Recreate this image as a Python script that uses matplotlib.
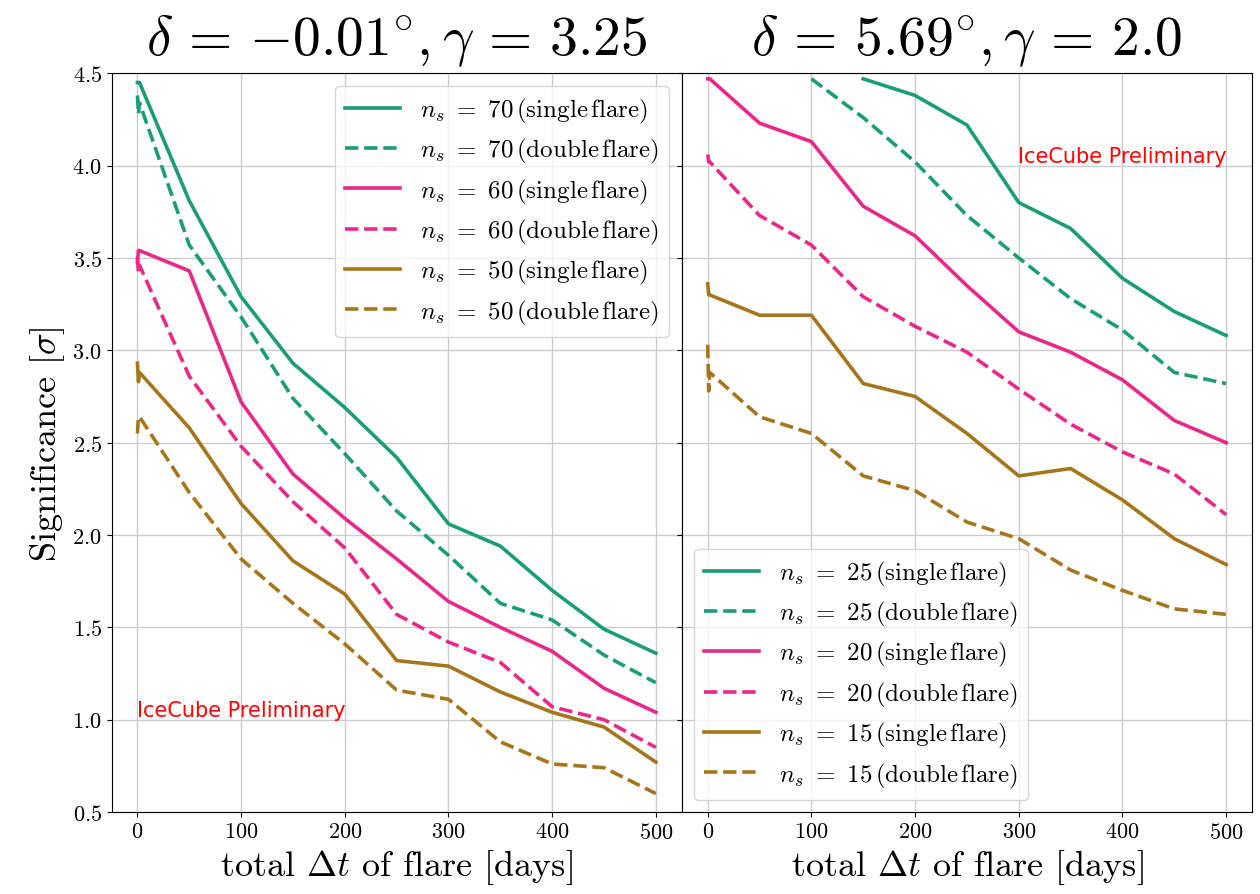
import numpy as np
import matplotlib
matplotlib.use("Agg")
import matplotlib.pyplot as plt

plt.rcParams["mathtext.fontset"] = "cm"
plt.rcParams["font.family"] = "serif"
plt.rcParams["font.serif"] = ["cmr10", "DejaVu Serif"]
plt.rcParams["axes.formatter.use_mathtext"] = True
plt.rcParams["axes.unicode_minus"] = False

# x grid: three points near zero, then every 50 days
t_days = [0, 1, 2, 50, 100, 150, 200, 250, 300, 350, 400, 450, 500]

# left panel: delta = -0.01, gamma = 3.25
left_ns = [70, 60, 50]
left_single = [
    [4.45, 4.45, 4.45, 3.81, 3.29, 2.93, 2.69, 2.42, 2.06, 1.94, 1.70, 1.49, 1.36],
    [3.48, 3.54, 3.54, 3.43, 2.72, 2.33, 2.09, 1.87, 1.64, 1.50, 1.37, 1.17, 1.04],
    [2.93, 2.83, 2.88, 2.58, 2.17, 1.86, 1.68, 1.32, 1.29, 1.15, 1.04, 0.96, 0.77],
]
left_double = [
    [4.38, 4.28, 4.34, 3.57, 3.18, 2.74, 2.44, 2.13, 1.89, 1.63, 1.54, 1.35, 1.20],
    [3.50, 3.42, 3.46, 2.86, 2.48, 2.18, 1.93, 1.57, 1.42, 1.31, 1.07, 1.00, 0.85],
    [2.55, 2.64, 2.64, 2.23, 1.87, 1.63, 1.41, 1.16, 1.11, 0.88, 0.76, 0.74, 0.60],
]

# right panel: delta = 5.69, gamma = 2.0
nan = np.nan
right_ns = [25, 20, 15]
right_single = [
    [nan, nan, nan, nan, nan, 4.47, 4.38, 4.22, 3.80, 3.66, 3.39, 3.21, 3.08],
    [4.47, 4.47, 4.47, 4.23, 4.13, 3.78, 3.62, 3.35, 3.10, 2.99, 2.84, 2.62, 2.50],
    [3.36, 3.30, 3.30, 3.19, 3.19, 2.82, 2.75, 2.55, 2.32, 2.36, 2.19, 1.98, 1.84],
]
right_double = [
    [nan, nan, nan, nan, 4.47, 4.26, 4.02, 3.73, 3.50, 3.28, 3.11, 2.88, 2.82],
    [4.06, 4.02, 4.02, 3.73, 3.57, 3.29, 3.13, 2.99, 2.79, 2.60, 2.45, 2.33, 2.11],
    [3.03, 2.78, 2.88, 2.64, 2.55, 2.32, 2.24, 2.07, 1.98, 1.81, 1.70, 1.60, 1.57],
]

colors = ["#1b9e77", "#e7298a", "#a6761d"]

fig, axes = plt.subplots(1, 2, figsize=(12.6, 8.95), dpi=100, sharey=True)
fig.subplots_adjust(left=0.0885, right=0.9937, top=0.917, bottom=0.0916, wspace=0)


def draw_panel(ax, ns_list, single, double, title):
    for ns, s, d, c in zip(ns_list, single, double, colors):
        ax.plot(t_days, s, color=c, lw=2.6, ls="-",
                label=r"$n_s\ =\ %d\,(\mathrm{single\,flare})$" % ns)
        ax.plot(t_days, d, color=c, lw=2.6, ls="--",
                label=r"$n_s\ =\ %d\,(\mathrm{double\,flare})$" % ns)
    ax.grid(True, color="#cccccc", lw=1.0)
    ax.set_title(title, fontsize=40, pad=14)
    ax.set_xlabel(r"total $\Delta t$ of flare $[\mathrm{days}]$", fontsize=26)
    ax.set_xticks([0, 100, 200, 300, 400, 500])
    ax.tick_params(labelsize=16)


draw_panel(axes[0], left_ns, left_single, left_double,
           r"$\delta\,=\,{-0.01}^{\circ}, \gamma\,=\,3.25$")
draw_panel(axes[1], right_ns, right_single, right_double,
           r"$\delta\,=\,5.69^{\circ}, \gamma\,=\,2.0$")

axes[0].set_ylim(0.5, 4.5)
axes[0].set_xlim(-25, 525)
axes[1].set_xlim(-25, 525)
axes[0].set_ylabel(r"Significance $[\sigma]$", fontsize=26)

axes[0].legend(loc="upper right", fontsize=18, handlelength=2.2, labelspacing=0.45)
axes[1].legend(loc="lower left", fontsize=18, handlelength=2.2, labelspacing=0.45)

axes[0].text(0, 1.05, "IceCube Preliminary", color="red", fontsize=15,
             family="DejaVu Sans", va="center", ha="left")
axes[1].text(299, 4.05, "IceCube Preliminary", color="red", fontsize=15,
             family="DejaVu Sans", va="center", ha="left")

fig.savefig("out.png", dpi=100)
